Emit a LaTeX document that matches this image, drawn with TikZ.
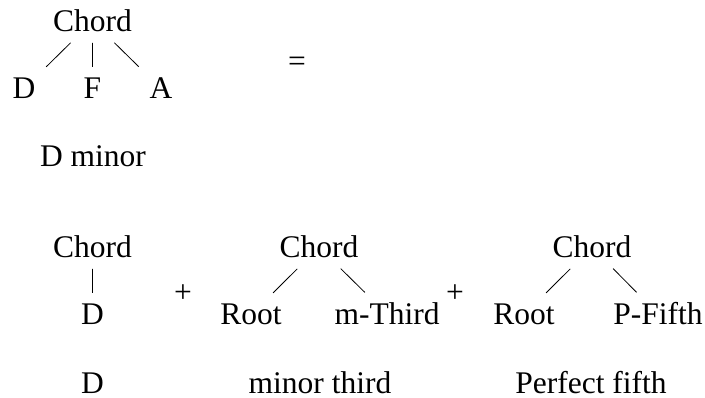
\documentclass[tikz,border=0pt]{standalone}
\usepackage{fontspec}
\setmainfont{Liberation Serif}
\usetikzlibrary{calc}
\begin{document}
\begin{tikzpicture}[x=1pt,y=-1pt,
  lbl/.style={inner sep=0pt, anchor=base, font=\fontsize{31.5}{38}\selectfont},
  edge/.style={line width=0.8pt, line cap=butt}]
\useasboundingbox (0,0) rectangle (705,398);
% top tree
\node[lbl] (tc) at (92.5,32) {Chord};
\node[lbl] (td) at (24,99) {D};
\node[lbl] (tf) at (92.5,99) {F};
\node[lbl] (ta) at (161,99) {A};
\node[lbl] (eq) at (297,72) {=};
\node[lbl] (dm) at (93,167) {D minor};
\foreach \c in {td,tf,ta}
  \draw[edge] ($(tc)!0.32!(\c)$) -- ($(tc)!0.675!(\c)$);
% bottom trees
\node[lbl] (b1c) at (92.5,258) {Chord};
\node[lbl] (b1d) at (92.5,325) {D};
\node[lbl] (p1) at (183,303) {+};
\node[lbl] (b2c) at (319,258) {Chord};
\node[lbl] (b2r) at (251,325) {Root};
\node[lbl] (b2t) at (387,325) {m-Third};
\node[lbl] (p2) at (455,303) {+};
\node[lbl] (b3c) at (592,258) {Chord};
\node[lbl] (b3r) at (524,325) {Root};
\node[lbl] (b3f) at (658,325) {P-Fifth};
\draw[edge] ($(b1c)!0.32!(b1d)$) -- ($(b1c)!0.675!(b1d)$);
\draw[edge] ($(b2c)!0.32!(b2r)$) -- ($(b2c)!0.675!(b2r)$);
\draw[edge] ($(b2c)!0.32!(b2t)$) -- ($(b2c)!0.675!(b2t)$);
\draw[edge] ($(b3c)!0.32!(b3r)$) -- ($(b3c)!0.675!(b3r)$);
\draw[edge] ($(b3c)!0.32!(b3f)$) -- ($(b3c)!0.675!(b3f)$);
% captions
\node[lbl] (l1) at (92.5,393) {D};
\node[lbl] (l2) at (320,393) {minor third};
\node[lbl] (l3) at (591,393) {Perfect fifth};
\end{tikzpicture}
\end{document}
